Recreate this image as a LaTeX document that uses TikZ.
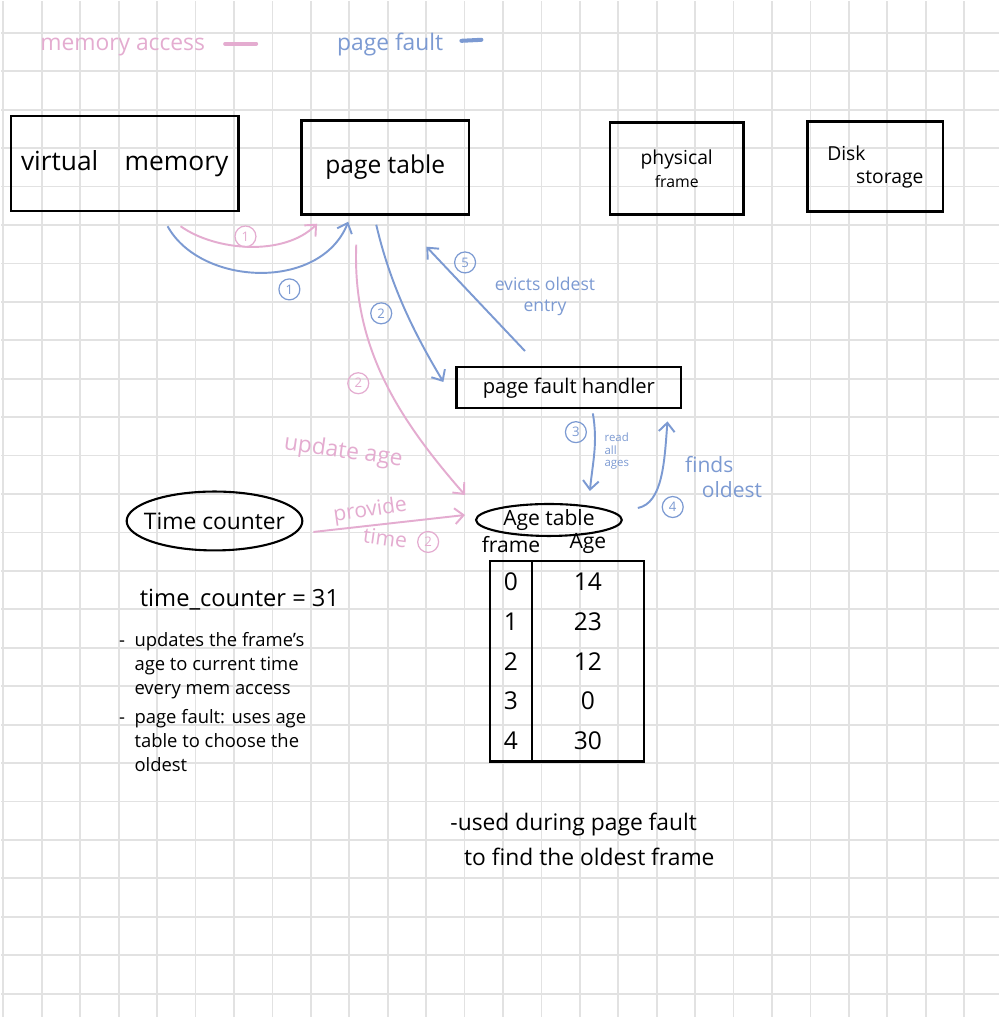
\documentclass[tikz,border=0pt]{standalone}
\usepackage{fontspec}
\setmainfont{Open Sans}
\usepackage{xcolor}
\usetikzlibrary{calc}
\usetikzlibrary{matrix}
\usetikzlibrary{positioning}
\usetikzlibrary{shapes.geometric}
\usetikzlibrary{arrows.meta}
\definecolor{penpink}{RGB}{228,172,208}
\definecolor{penblue}{RGB}{124,154,210}
\definecolor{gridgray}{RGB}{226,226,226}

\begin{document}
\begin{tikzpicture}[x=0.2mm,y=-0.2mm,
	gridline/.style={gridgray,line width=1pt},
	box/.style={draw,line width=1.4pt,inner sep=0pt,align=center},
	oval/.style={draw,ellipse,line width=1.2pt,inner sep=0pt},
	pen/.style={line width=1.1pt,-{Straight Barb[length=5pt,width=9pt]}},
	num/.style={circle,draw,line width=0.7pt,inner sep=0.5pt,minimum size=4.2mm,font=\fontsize{7.5}{8}\selectfont},
	note/.style={align=left,inner sep=0pt}]
	\fill[white] (0,0) rectangle (1000,1018);
	\foreach \i in {0,...,25}
		\draw[gridline] (2.5+38.5*\i,0) -- (2.5+38.5*\i,1018);
	\foreach \j in {0,...,25}
		\draw[gridline] (0,32+38.5*\j) -- (1000,32+38.5*\j);
	
	% legend
	\node[penpink,font=\fontsize{13}{13}\selectfont] (memacc) at (122,46) {memory access};
	\node[penblue,font=\fontsize{13}{13}\selectfont] (pgfault) at (390,44) {page fault};
	\draw[penpink,line width=2.3pt,line cap=round] ($(memacc.east)+(14,-3)$) -- ++(31,0);
	\draw[penblue,line width=2.3pt,line cap=round] ($(pgfault.east)+(12,-4)$) -- ++(20,-1);
	
	% top row
	\node[box,minimum width=45.6mm,minimum height=19mm,font=\fontsize{15}{15}\selectfont] (vm) at (124,163) {virtual\quad memory};
	\node[box,minimum width=33.6mm,minimum height=18.8mm,font=\fontsize{14}{14}\selectfont] (pt) at (385,167) {page table};
	\node[box,minimum width=26.8mm,minimum height=18.4mm,font=\fontsize{11}{13}\selectfont] (pf) at (677,168) {physical\\{\fontsize{9}{10}\selectfont frame}};
	\node[box,minimum width=27.2mm,minimum height=18mm,font=\fontsize{11}{13}\selectfont] (disk) at (876,166) {Disk\hspace*{3em}\\\hspace*{1.5em}storage};
	
	\node[box,minimum width=45mm,minimum height=8.2mm,font=\fontsize{11.5}{12}\selectfont] (handler) at (569,387.5) {page fault handler};
	
	\node[oval,minimum width=35.2mm,minimum height=11.8mm,font=\fontsize{13}{13}\selectfont] (tc) at (214,521) {\makebox[0pt]{Time counter}};
	\node[oval,minimum width=29.2mm,minimum height=6.4mm,font=\fontsize{12}{12}\selectfont] (agetab) at (549,520) {\makebox[0pt]{Age table}};
	
	% age table
	\matrix[matrix of nodes,inner sep=0pt,column sep=0pt,row sep=0pt,
		nodes={minimum height=8mm,inner sep=0pt,font=\fontsize{14}{14}\selectfont},
		column 1/.style={nodes={minimum width=8.4mm}},
		column 2/.style={nodes={minimum width=22.4mm}}] (m) at (567,661.5) {
		0 & 14\\
		1 & 23\\
		2 & 12\\
		3 & 0\\
		4 & 30\\
	};
	\draw[line width=1.3pt] (m.north west) rectangle (m.south east);
	\draw[line width=1.3pt] (m-1-1.north east) -- (m-5-1.south east);
	\node[above=1pt of m-1-1,font=\fontsize{12}{12}\selectfont] (framehd) {frame};
	\node[above=1pt of m-1-2,font=\fontsize{12}{12}\selectfont] (agehd) {Age};
	
	% pink: memory access
	\draw[pen,penpink] ([shift={(56,14)}]vm.south) .. controls +(35,25) and +(-33,33) .. ([shift={(17,8)}]pt.south west);
	\node[num,penpink] (p1) at (245,236) {1};
	\draw[pen,penpink] ([shift={(-29,29)}]pt.south) .. controls +(-4,100) and +(-70,-80) .. ([shift={(-10,-25)}]agetab.west);
	\node[num,penpink] (p2) at (358,383) {2};
	\node[penpink,rotate=-8,font=\fontsize{13}{13}\selectfont] (updage) at (343,452) {update age};
	\draw[pen,penpink] ([shift={(10,11)}]tc.east) -- ([shift={(-10,-5)}]agetab.west);
	\node[penpink,rotate=8,font=\fontsize{12}{12}\selectfont] (provide) at (370,511) {provide};
	\node[penpink,rotate=-8,font=\fontsize{12}{12}\selectfont] (ptime) at (385,538) {time};
	\node[num,penpink] (p2b) at (428,542) {2};
	
	% blue: page fault
	\draw[pen,penblue] ([shift={(43,14)}]vm.south) .. controls +(33,60) and +(-28,70) .. ([shift={(-37,6)}]pt.south);
	\node[num,penblue] (b1) at (289,289) {1};
	\draw[pen,penblue] ([shift={(-9,9)}]pt.south) .. controls +(14,60) and +(-30,-50) .. ([shift={(-12,16)}]handler.north west);
	\node[num,penblue] (b2) at (381,313) {2};
	\draw[pen,penblue] ([shift={(24,4)}]handler.south) .. controls +(5,30) and +(3,-30) .. ([shift={(41,-12)}]agetab.north);
	\node[num,penblue] (b3) at (576,432) {3};
	\node[note,penblue,font=\fontsize{6.5}{7}\selectfont] (readall) at (617,451) {read\\all\\ages};
	\draw[pen,penblue] ([shift={(15,-12)}]agetab.east) .. controls +(25,-5) and +(-3,40) .. ([shift={(-15,12)}]handler.south east);
	\node[num,penblue] (b4) at (673,507) {4};
	\node[note,penblue,font=\fontsize{12}{14}\selectfont] (finds) at (724,477) {finds\\\hspace*{0.8em}oldest};
	\draw[pen,penblue] ([shift={(-44,-15)}]handler.north) -- ([shift={(-44,31)}]pt.south east);
	\node[num,penblue] (b5) at (465,262) {5};
	\node[penblue,align=center,font=\fontsize{10}{12}\selectfont] (evicts) at (545,296) {evicts oldest\\entry};
	
	% notes
	\node[font=\fontsize{13.5}{13.5}\selectfont] (tcval) at (239,600) {time\_counter = 31};
	\node[note,anchor=north west,font=\fontsize{10.5}{13.6}\selectfont] (rules) at (118,630) {%
		\begin{tabular}{@{}l@{\ \ }l@{}}
		- & updates the frame's\\
		  & age to current time\\
		  & every mem access\\[3pt]
		- & page fault: uses age\\
		  & table to choose the\\
		  & oldest
		\end{tabular}};
	\node[note,anchor=west,font=\fontsize{13}{20}\selectfont] (usednote) at (450,840) {-used during page fault\\\hspace*{0.6em}to find the oldest frame};
\end{tikzpicture}
\end{document}
